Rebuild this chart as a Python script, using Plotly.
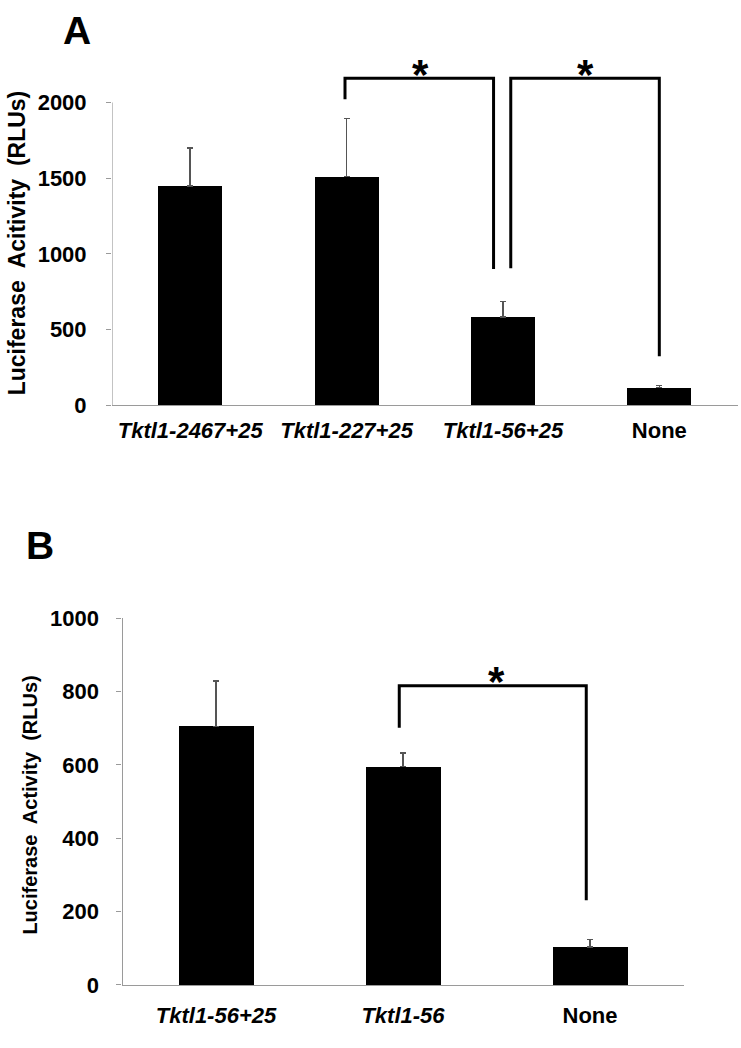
import plotly.graph_objects as go

# ---------------- data ----------------
cats_a = ["Tktl1-2467+25", "Tktl1-227+25", "Tktl1-56+25", "None"]
means_a = [1448, 1510, 581, 115]
errs_a = [251, 386, 103, 16]
ticks_a = [0, 500, 1000, 1500, 2000]

cats_b = ["Tktl1-56+25", "Tktl1-56", "None"]
means_b = [705, 595, 103]
errs_b = [124, 38, 21]
ticks_b = [0, 200, 400, 600, 800, 1000]

# significance brackets (x in category index units, y in data units)
brk_a1_x = [0.99, 0.99, 1.94, 1.94]
brk_a1_y = [2022, 2161, 2161, 899]
brk_a2_x = [2.05, 2.05, 3.0, 3.0]
brk_a2_y = [905, 2161, 2161, 323]
star_a_x = [1.47, 2.53]
star_a_y = [2161, 2161]

brk_b_x = [0.98, 0.98, 1.98, 1.98]
brk_b_y = [701, 816, 816, 231]
star_b_x = [1.5]
star_b_y = [816]

FONT = "Liberation Sans, Arial, sans-serif"
AXCOL = "#9a9a9a"


def label(c):
    return "<b>None</b>" if c == "None" else "<b><i>" + c + "</i></b>"


fig = go.Figure()

# panel A bars
fig.add_trace(go.Bar(
    x=list(range(len(cats_a))), y=means_a, width=0.41,
    marker=dict(color="black", line=dict(width=0)),
    error_y=dict(type="data", symmetric=False, array=errs_a,
                 arrayminus=[0] * len(errs_a), color="#555555",
                 thickness=1.5, width=3),
    xaxis="x", yaxis="y", showlegend=False))
# panel A y axis line (only to 2000)
fig.add_trace(go.Scatter(x=[-0.5, -0.5], y=[0, 2000], mode="lines",
                         line=dict(color=AXCOL, width=1.2), cliponaxis=False,
                         xaxis="x", yaxis="y", showlegend=False, hoverinfo="skip"))
for bx, by in [(brk_a1_x, brk_a1_y), (brk_a2_x, brk_a2_y)]:
    fig.add_trace(go.Scatter(x=bx, y=by, mode="lines",
                             line=dict(color="black", width=3), cliponaxis=False,
                             xaxis="x", yaxis="y", showlegend=False, hoverinfo="skip"))

# panel B bars
fig.add_trace(go.Bar(
    x=list(range(len(cats_b))), y=means_b, width=0.40,
    marker=dict(color="black", line=dict(width=0)),
    error_y=dict(type="data", symmetric=False, array=errs_b,
                 arrayminus=[0] * len(errs_b), color="#555555",
                 thickness=1.5, width=3),
    xaxis="x2", yaxis="y2", showlegend=False))
fig.add_trace(go.Scatter(x=brk_b_x, y=brk_b_y, mode="lines",
                         line=dict(color="black", width=3), cliponaxis=False,
                         xaxis="x2", yaxis="y2", showlegend=False, hoverinfo="skip"))

annotations = []
for sx, sy in zip(star_a_x, star_a_y):
    annotations.append(dict(x=sx, y=sy, xref="x", yref="y", text="<b>*</b>",
                            showarrow=False, yanchor="middle", xanchor="center", yshift=4,
                            font=dict(size=42, family=FONT, color="black")))
for sx, sy in zip(star_b_x, star_b_y):
    annotations.append(dict(x=sx, y=sy, xref="x2", yref="y2", text="<b>*</b>",
                            showarrow=False, yanchor="middle", xanchor="center", yshift=4,
                            font=dict(size=42, family=FONT, color="black")))
# panel letters
annotations.append(dict(x=77 / 741, y=1 - 19 / 1048, xref="paper", yref="paper",
                        text="<b>A</b>", showarrow=False, xanchor="center", yanchor="middle",
                        font=dict(size=39, family=FONT, color="black")))
annotations.append(dict(x=40 / 741, y=1 - 547 / 1048, xref="paper", yref="paper",
                        text="<b>B</b>", showarrow=False, xanchor="center", yanchor="middle",
                        font=dict(size=39, family=FONT, color="black")))
# y axis titles
annotations.append(dict(x=17 / 741, y=1 - 237 / 1048, xref="paper", yref="paper",
                        text="<b>Luciferase  Acitivity  (RLUs)</b>", textangle=-90,
                        showarrow=False, xanchor="center", yanchor="middle",
                        font=dict(size=23, family=FONT, color="black")))
annotations.append(dict(x=30 / 741, y=1 - 813 / 1048, xref="paper", yref="paper",
                        text="<b>Luciferase  Activity  (RLUs)</b>", textangle=-90,
                        showarrow=False, xanchor="center", yanchor="middle",
                        font=dict(size=20, family=FONT, color="black")))

fig.update_layout(
    width=741, height=1048,
    margin=dict(l=0, r=0, t=0, b=0),
    paper_bgcolor="white", plot_bgcolor="white",
    font=dict(family=FONT, color="black"),
    annotations=annotations,
    bargap=0,
    xaxis=dict(domain=[112 / 741, 737.5 / 741], anchor="y", range=[-0.5, 3.5],
               tickvals=list(range(len(cats_a))), ticktext=[label(c) for c in cats_a],
               showline=True, linecolor=AXCOL, linewidth=1.2, ticks="",
               showgrid=False, zeroline=False, ticklabelstandoff=5,
               tickfont=dict(size=22, family=FONT, color="black")),
    yaxis=dict(domain=[1 - 402.7 / 1048, 1 - 54 / 1048], anchor="x", range=[0, 2250],
               tickvals=ticks_a, ticktext=["<b>%d</b>" % t for t in ticks_a],
               showline=False, ticks="outside", ticklen=5, tickcolor=AXCOL,
               showgrid=False, zeroline=False, ticklabelstandoff=15,
               tickfont=dict(size=22, family=FONT, color="black")),
    xaxis2=dict(domain=[122.5 / 741, 683.5 / 741], anchor="y2", range=[-0.5, 2.5],
                tickvals=list(range(len(cats_b))), ticktext=[label(c) for c in cats_b],
                showline=True, linecolor=AXCOL, linewidth=1.2, ticks="",
                showgrid=False, zeroline=False, ticklabelstandoff=11,
                tickfont=dict(size=22, family=FONT, color="black")),
    yaxis2=dict(domain=[1 - 996.7 / 1048, 1 - 621 / 1048], anchor="x2", range=[0, 1000],
                tickvals=ticks_b, ticktext=["<b>%d</b>" % t for t in ticks_b],
                showline=True, linecolor=AXCOL, linewidth=1.2,
                ticks="outside", ticklen=5, tickcolor=AXCOL,
                showgrid=False, zeroline=False, ticklabelstandoff=13,
                tickfont=dict(size=22, family=FONT, color="black")),
)

fig.write_html("out.html", config={"displayModeBar": False},
               post_script="document.body.style.margin='0';document.body.style.overflow='hidden';")
